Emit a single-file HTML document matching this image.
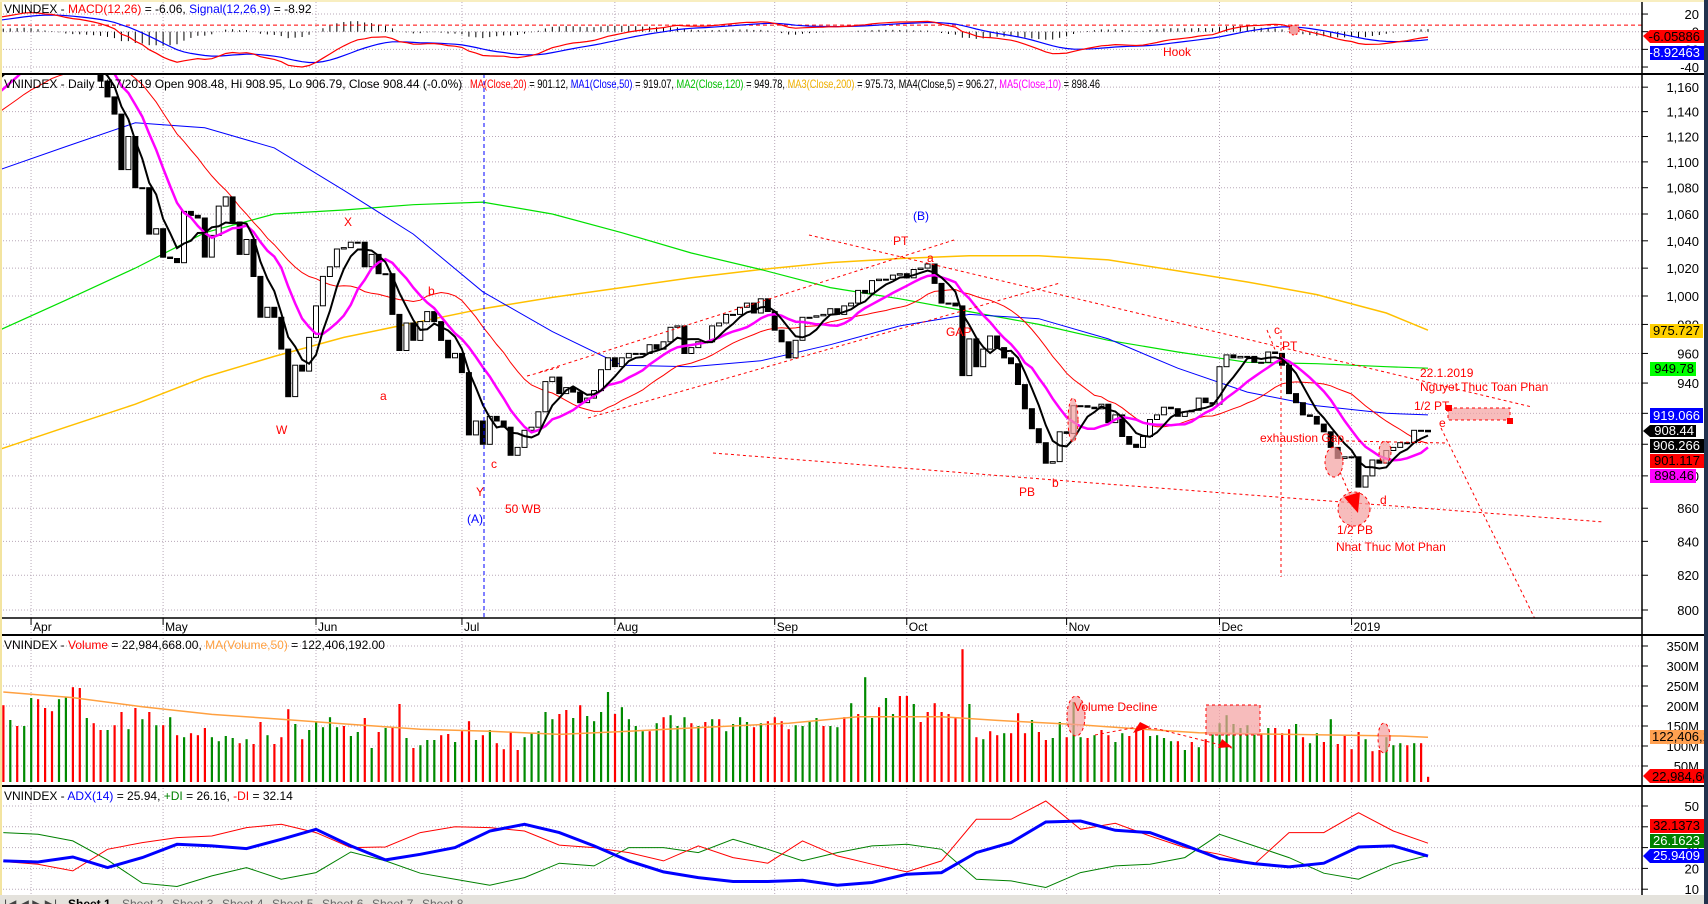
<!DOCTYPE html>
<html><head><meta charset="utf-8"><title>VNINDEX chart</title>
<style>
html,body{margin:0;padding:0;background:#fff;}
svg{display:block;font-family:"Liberation Sans",Arial,sans-serif;}
</style></head>
<body>
<svg id="chart" width="1708" height="904" viewBox="0 0 1708 904" xmlns="http://www.w3.org/2000/svg">
<defs>
<clipPath id="cM"><rect x="0" y="0" width="1642" height="74"/></clipPath>
<clipPath id="cP"><rect x="0" y="75" width="1642" height="543"/></clipPath>
<clipPath id="cV"><rect x="0" y="636" width="1642" height="149"/></clipPath>
<clipPath id="cA"><rect x="0" y="787" width="1642" height="108"/></clipPath>
</defs>
<rect x="0" y="0" width="1708" height="904" fill="#fff"/>
<g id="grid"></g>
<g id="macdG" clip-path="url(#cM)"></g>
<g id="priceG" clip-path="url(#cP)"></g>
<g id="volG" clip-path="url(#cV)"></g>
<g id="adxG" clip-path="url(#cA)"></g>

<g clip-path="url(#cP)" stroke="#ff0000" stroke-width="1" fill="none" stroke-dasharray="3,3">
<line x1="484" y1="74" x2="484" y2="618" stroke="#0000ff" stroke-dasharray="4,3"/>
<line x1="1281" y1="330" x2="1281" y2="577"/>
<line x1="809" y1="235" x2="1532" y2="407"/>
<line x1="540" y1="372" x2="954" y2="240"/>
<line x1="588" y1="418" x2="1060" y2="283"/>
<polyline points="713,453 1080,482 1604,522"/>
<line x1="1441" y1="428" x2="1535" y2="619"/>
<line x1="1267" y1="330" x2="1276" y2="352"/>
<line x1="1346" y1="441" x2="1448" y2="443"/>
<line x1="1340" y1="472" x2="1350" y2="495"/>
<line x1="527" y1="376" x2="560" y2="367"/>
<ellipse cx="1073" cy="420" rx="5" ry="22" fill="#f4a0a0" fill-opacity="0.7"/>
<ellipse cx="1334" cy="462" rx="9" ry="15" fill="#f4a0a0" fill-opacity="0.7"/>
<ellipse cx="1354" cy="509" rx="16" ry="17" fill="#f4a0a0" fill-opacity="0.7"/>
<ellipse cx="1385" cy="452" rx="6" ry="11" fill="#f4a0a0" fill-opacity="0.7"/>
<rect x="1448" y="408" width="62" height="12" fill="#f4a0a0" fill-opacity="0.7"/>
</g>
<g fill="#ff0000">
<rect x="1446" y="405" width="6" height="6"/>
<rect x="1507" y="418" width="6" height="6"/>
<polygon points="1344,497 1360,492 1358,513"/>
</g>
<g font-size="12" fill="#ff0000">
<text x="344" y="226">X</text>
<text x="276" y="434">W</text>
<text x="380" y="400">a</text>
<text x="428" y="295">b</text>
<text x="476" y="496">Y</text>
<text x="491" y="468">c</text>
<text x="505" y="513">50 WB</text>
<text x="893" y="245">PT</text>
<text x="927" y="262">a</text>
<text x="946" y="336">GAP</text>
<text x="1019" y="496">PB</text>
<text x="1052" y="487">b</text>
<text x="1274" y="334">c</text>
<text x="1282" y="350">PT</text>
<text x="1420" y="377">22.1.2019</text>
<text x="1420" y="391">Nguyet Thuc Toan Phan</text>
<text x="1414" y="410">1/2 PT</text>
<text x="1439" y="427">e</text>
<text x="1260" y="442">exhaustion Gap</text>
<text x="1380" y="504">d</text>
<text x="1337" y="534">1/2 PB</text>
<text x="1336" y="551">Nhat Thuc Mot Phan</text>
<text x="467" y="523" fill="#0000ff">(A)</text>
<text x="913" y="220" fill="#0000ff">(B)</text>
</g>
<circle cx="1294" cy="30" r="5" fill="#f4a0a0" stroke="#ff0000" stroke-dasharray="2,2"/>
<text x="1163" y="56" font-size="12" fill="#ff0000">Hook</text>
<g stroke="#ff0000" stroke-dasharray="3,3" fill="#f4a0a0" fill-opacity="0.7">
<ellipse cx="1076" cy="716" rx="9" ry="20"/>
<rect x="1206" y="705" width="54" height="30"/>
<ellipse cx="1384" cy="738" rx="6" ry="15"/>
<polyline points="1095,735 1137,727 1158,729 1213,743 1232,748" fill="none"/>
</g>
<polygon points="1133,733 1150,727 1140,722" fill="#ff0000"/>
<polygon points="1218,748 1232,747 1222,739" fill="#ff0000"/>
<text x="1074" y="711" font-size="12" fill="#ff0000">Volume Decline</text>

<text x="4" y="13" font-size="12"><tspan>VNINDEX - </tspan><tspan fill="#ff0000">MACD(12,26)</tspan><tspan> = -6.06, </tspan><tspan fill="#0000ff">Signal(12,26,9)</tspan><tspan> = -8.92</tspan></text>
<text x="4" y="88" font-size="12">VNINDEX - Daily 1/17/2019 Open 908.48, Hi 908.95, Lo 906.79, Close 908.44 (-0.0%)</text>
<text x="470" y="88" font-size="12" textLength="630" lengthAdjust="spacingAndGlyphs"><tspan fill="#ff0000">MA(Close,20)</tspan><tspan> = 901.12, </tspan><tspan fill="#0000ff">MA1(Close,50)</tspan><tspan> = 919.07, </tspan><tspan fill="#00c000">MA2(Close,120)</tspan><tspan> = 949.78, </tspan><tspan fill="#f0b000">MA3(Close,200)</tspan><tspan> = 975.73, </tspan><tspan>MA4(Close,5) = 906.27, </tspan><tspan fill="#ff00ff">MA5(Close,10)</tspan><tspan> = 898.46</tspan></text>
<text x="4" y="649" font-size="12"><tspan>VNINDEX - </tspan><tspan fill="#ff0000">Volume</tspan><tspan> = 22,984,668.00, </tspan><tspan fill="#ffa040">MA(Volume,50)</tspan><tspan> = 122,406,192.00</tspan></text>
<text x="4" y="800" font-size="12"><tspan>VNINDEX - </tspan><tspan fill="#0000ff">ADX(14)</tspan><tspan> = 25.94, </tspan><tspan fill="#008000">+DI</tspan><tspan> = 26.16, </tspan><tspan fill="#ff0000">-DI</tspan><tspan> = 32.14</tspan></text>

<g stroke="#000">
<line x1="0" y1="74" x2="1708" y2="74" stroke-width="2"/>
<line x1="0" y1="618" x2="1642" y2="618" stroke-width="1.5"/>
<line x1="0" y1="635" x2="1708" y2="635" stroke-width="2"/>
<line x1="0" y1="786" x2="1708" y2="786" stroke-width="2"/>
<line x1="1642" y1="0" x2="1642" y2="895" stroke-width="1.5"/>
</g>
<g id="axisG"></g>

<g font-size="13">
<polygon points="1643,36 1650,30 1705,30 1705,43 1650,43" fill="#ff0000"/><text x="1700" y="41" text-anchor="end" fill="#000">-6.05886</text>
<rect x="1650" y="46" width="55" height="14" fill="#0000ff"/><text x="1700" y="57" text-anchor="end" fill="#fff">-8.92463</text>
<rect x="1650" y="324" width="53" height="14" fill="#ffd000"/><text x="1700" y="335" text-anchor="end">975.727</text>
<rect x="1650" y="362" width="46" height="14" fill="#00ff00"/><text x="1694" y="373" text-anchor="end">949.78</text>
<rect x="1650" y="408" width="53" height="15" fill="#0000ff"/><text x="1700" y="420" text-anchor="end" fill="#fff">919.066</text>
<polygon points="1643,431 1650,425 1696,425 1696,437 1650,437" fill="#000"/><text x="1694" y="435" text-anchor="end" fill="#fff">908.44</text>
<rect x="1650" y="439" width="55" height="14" fill="#000"/><text x="1700" y="450" text-anchor="end" fill="#fff">906.266</text>
<rect x="1650" y="454" width="55" height="14" fill="#ff0000"/><text x="1700" y="465" text-anchor="end">901.117</text>
<rect x="1650" y="469" width="46" height="14" fill="#ff00ff"/><text x="1694" y="480" text-anchor="end">898.46</text>
<rect x="1650" y="730" width="58" height="14" fill="#ffa050"/><text x="1652" y="741">122,406,1</text>
<polygon points="1643,776 1650,769 1708,769 1708,783 1650,783" fill="#ff0000"/><text x="1652" y="781">22,984,66</text>
<rect x="1650" y="819" width="55" height="14" fill="#ff0000"/><text x="1700" y="830" text-anchor="end">32.1373</text>
<rect x="1650" y="834" width="55" height="14" fill="#008000"/><text x="1700" y="845" text-anchor="end" fill="#fff">26.1623</text>
<polygon points="1643,856 1650,849 1705,849 1705,863 1650,863" fill="#0000ff"/><text x="1700" y="860" text-anchor="end" fill="#fff">25.9409</text>
</g>

<g>
<rect x="0" y="895" width="1708" height="9" fill="#e4e2dc"/>
<text x="4" y="908" font-size="12" fill="#444">|◀ ◀ ▶ ▶|</text>
<text x="68" y="908" font-size="12" font-weight="bold">Sheet 1</text>
<text x="122" y="908" font-size="12" fill="#666">Sheet 2</text>
<text x="172" y="908" font-size="12" fill="#666">Sheet 3</text>
<text x="222" y="908" font-size="12" fill="#666">Sheet 4</text>
<text x="272" y="908" font-size="12" fill="#666">Sheet 5</text>
<text x="322" y="908" font-size="12" fill="#666">Sheet 6</text>
<text x="372" y="908" font-size="12" fill="#666">Sheet 7</text>
<text x="422" y="908" font-size="12" fill="#666">Sheet 8</text>
</g>
<rect x="0" y="0" width="2" height="895" fill="#f3e4a0"/>
<rect x="0" y="0" width="1708" height="2" fill="#f8eec0"/>
<rect x="1704" y="0" width="4" height="904" fill="#22324e"/>
</svg>

<script>
const preCloses = [1100,1105,1095,1110,1115,1120,1125,1130,1120,1128,1135,1140,1130,1138,1145,1150,1148,1155,1160,1165,1170,1175,
1180,1188,1195,1204,1198,1190,1185,1192,1180,1175,1178,1182,1176,1172,1165];
const closes = [1152,1138,1094,1120,1080,1080,1045,1049,1028,1027,1024,1062,1059,1057,1028,1044,1066,1073,1054,1030,
1041,1014,985,992,985,963,931,952,948,971,993,1014,1021,1034,1035,1039,1039,1021,1030,1016,
1016,987,962,981,969,982,989,982,969,957,960,947,906,915,900,918,915,911,893,898,
909,911,921,941,944,
933,937,934,927,930,935,949,957,951,957,960,960,960,966,963,968,978,979,960,964,
968,968,979,981,987,987,992,995,988,998,989,976,968,957,969,985,985,986,987,991,
987,993,995,1004,1002,1011,1012,1012,1015,1016,1013,1019,1020,1023,1009,995,995,993,945,970,
951,963,972,964,957,953,939,923,910,901,888,889,908,907,925,925,924,923,
926,914,919,905,900,898,905,916,919,924,923,918,921,922,930,927,926,951,959,957,
958,958,954,954,961,960,952,933,927,919,918,913,908,898,891,892,892,873,880,890,
888,896,898,901,901,909,909,908];
const volumes = [202,165,150,150,220,217,195,187,217,222,247,245,170,157,140,140,152,185,142,195,
167,185,152,152,172,127,122,132,127,145,122,112,125,120,107,117,105,160,127,105,
122,192,155,117,140,162,147,172,147,150,125,135,170,95,135,145,145,205,120,95,
102,115,115,127,130,110,137,162,115,127,140,107,92,135,90,122,132,137,185,167,
180,190,170,202,175,162,185,235,180,197,167,150,137,137,157,172,177,150,172,157,
150,160,167,167,137,
155,172,160,147,157,162,172,162,142,152,150,160,170,150,150,147,172,207,180,272,
170,197,220,180,225,225,205,160,185,207,185,180,172,342,205,122,117,137,127,132,
132,182,132,165,135,115,120,160,122,210,122,120,127,140,127,110,132,125,140,140,
125,127,120,112,112,90,110,97,117,130,157,177,155,145,152,130,130,145,145,132,
142,155,122,107,132,110,167,105,125,92,135,117,87,90,122,102,107,102,107,107,23];
const volColors = "rgrggrrrgg"+"rrgrrgrrgr"+"grgrgrgrrr"+"ggggrgrrgr"+"rrgrgggggr"+"ggrgrgrrgr"+"gggrrgrrgr"+"grrrrggggg"+"rrgrggggrg"+"gggrgrgggr"+"grgrg"
 +"gggrgrrrrg"+"gggrggrgrg"+"grggrrgrrr"+"rrrrgrgrrg"+"rrrgrrggrg"+"grgrrggrrr"+"ggggrgrgrg"+"ggggggrgrr"+"rgrggrgrrr"+"rgrrgggrgr"+"r";
const maIdx  = [-1,9,19,29,39,49,59,69,79,89,99,109,119,129,139,149,159,169,179,189,199,205];
const ma50   = [1093,1112,1131,1127,1111,1078,1045,1003,975,952,951,955,966,979,987,984,970,950,934,925,920,919];
const ma120  = [975,997,1020,1046,1060,1063,1067,1069,1060,1046,1031,1019,1006,998,989,980,969,961,954,953,951,950];
const ma200  = [896,911,926,944,958,971,981,991,999,1006,1013,1019,1024,1027,1029,1029,1026,1018,1010,1001,988,976];
const volMaIdx = [0,10,20,30,40,50,60,70,80,90,100,113,123,135,143,154,164,172,185,201,205];
const volMa    = [235,221,198,179,167,154,142,137,129,137,146,157,173,173,164,154,142,133,129,125,122];
const adxIdx = [0,5,10,15,20,25,30,35,40,45,50,55,60,65,70,75,80,85,90,95,100,105,110,115,120,125,130,135,140,145,150,155,160,165,170,175,180,185,190,195,200,205];
const adx  = [23.6,23.1,25.5,20.4,25.2,31.6,30.8,29.5,34,38.8,30.8,24.1,26.8,30,38,41.2,37.2,30.8,23.6,18.3,15.6,13.7,13.7,14.3,11.9,13.2,17.2,18,27.6,32.4,42.3,42.8,38.3,37.2,31.1,24.7,22.3,20.7,22.5,30.3,30.8,25.9];
const pdi  = [37.2,36.4,33.2,24.1,12.9,11.3,16.4,20.4,14.8,18,27.9,23.6,17.7,14.8,11.9,15.6,22.5,21.2,30,30,27.6,34,29.2,23.6,27.6,30.8,31.6,29.2,14.8,14,10.8,18,21.2,22,25.2,36.4,30.8,25.2,17.7,14.8,22,26.2];
const mdi  = [23.3,22,18.8,29.2,32.4,34.8,35.6,39.6,41.2,37.2,30,30.3,37.2,40,39.6,38,31.2,30,27.6,23.6,30.8,25.2,22.5,33.2,26,22,18.3,23.6,43.6,43.6,52.4,38.8,41.7,35.6,30,26.8,22,37.2,37.2,46.8,38,32.1];
const priceTicks = [800,820,840,860,880,900,920,940,960,980,1000,1020,1040,1060,1080,1100,1120,1140,1160];
const macdTicks = [20,0,-20,-40];
const macdTickLabels = ["20","0","-20","-40"];
const volTicks = [50,100,150,200,250,300,350];
const adxTicks = [10,20,30,40,50];
const monthIdx = [4,23,45,66,88,111,130,153,175,194];
const monthLabels = ["Apr","May","Jun","Jul","Aug","Sep","Oct","Nov","Dec","2019"];
const macdRefLevel = [7.5];

const NS = "http://www.w3.org/2000/svg";
const PRE = 22;
const X0 = 3.25, DX = 6.95, RIGHT = 1642;
function xi(i){ return X0 + i*DX; }
function yP(v){ return 296 - 3240*Math.log10(v/1000); }
function yM(v){ return 31.7 - 0.883*v; }
function yV(m){ return 786 - 0.4*m; }
function yA(v){ return 806 + (50 - v)*2.08; }
function mk(tag, attrs, parent){
  const e = document.createElementNS(NS, tag);
  for (const k in attrs) e.setAttribute(k, attrs[k]);
  parent.appendChild(e);
  return e;
}
const gGrid = document.getElementById('grid');
const gAxis = document.getElementById('axisG');
const gM = document.getElementById('macdG');
const gP = document.getElementById('priceG');
const gV = document.getElementById('volG');
const gA = document.getElementById('adxG');

function hGrid(y, name){
  const l = mk('line', {x1:0, x2:RIGHT, y1:y, y2:y, stroke:'#b8a8b8', 'stroke-dasharray':'1,2'}, gGrid);
  
  
}
function tickLabel(y, txt, name){
  const t = mk('line', {x1:RIGHT, x2:RIGHT+6, y1:y, y2:y, stroke:'#000'}, gAxis);
  
  
  const s = mk('text', {x:1699, y:y+5, 'text-anchor':'end', 'font-size':13}, gAxis);
  s.textContent = txt;
  
  
}
function fmt(v){ return v >= 1000 ? Math.floor(v/1000) + ',' + String(v%1000).padStart(3,'0') : String(v); }

priceTicks.forEach(v => { hGrid(yP(v), 'price-gridline'); tickLabel(yP(v), fmt(v), 'price-tick-label'); });
macdTicks.forEach((v,k) => { hGrid(yM(v), 'macd-gridline'); tickLabel(yM(v), macdTickLabels[k], 'macd-tick-label'); });
volTicks.forEach(v => { hGrid(yV(v), 'volume-gridline'); tickLabel(yV(v), v + 'M', 'volume-tick-label'); });
adxTicks.forEach(v => { hGrid(yA(v), 'adx-gridline'); tickLabel(yA(v), String(v), 'adx-tick-label'); });
monthIdx.forEach((i,k) => {
  const x = xi(i);
  const l = mk('line', {x1:x, x2:x, y1:2, y2:895, stroke:'#b8a8b8', 'stroke-dasharray':'1,2'}, gGrid);
  
  
  const t = mk('line', {x1:x, x2:x, y1:618, y2:625, stroke:'#000'}, gAxis);
  
  
  const s = mk('text', {x:x+2, y:631, 'font-size':12, 'font-stretch':'condensed'}, gAxis);
  s.textContent = monthLabels[k];
  
  
});

const all = preCloses.concat(closes);
function sma(n){ return all.map((v,j) => { if (j < n-1) return null; let s=0; for (let k=j-n+1;k<=j;k++) s+=all[k]; return s/n; }); }
function linePts(vals, yf){ const pts=[]; vals.forEach((v,j) => { if (v===null) return; const i=j-PRE; if (i<-2) return; pts.push(xi(i).toFixed(1)+','+yf(v).toFixed(1)); }); return pts.join(' '); }
function samplePts(idx, vals, yf){ return idx.map((i,k) => xi(i).toFixed(1)+','+yf(vals[k]).toFixed(1)).join(' '); }

const l200 = mk('polyline', {points:samplePts(maIdx, ma200, yP), fill:'none', stroke:'#ffc000', 'stroke-width':1.5}, gP);


const l120 = mk('polyline', {points:samplePts(maIdx, ma120, yP), fill:'none', stroke:'#00e000', 'stroke-width':1.2}, gP);


const l50 = mk('polyline', {points:samplePts(maIdx, ma50, yP), fill:'none', stroke:'#0000ff', 'stroke-width':1}, gP);


const l20 = mk('polyline', {points:linePts(sma(20), yP), fill:'none', stroke:'#ff0000', 'stroke-width':1}, gP);



for (let j=1; j<all.length; j++){
  const i = j - PRE; if (i < 0) continue;
  const o = all[j-1], c = all[j];
  const yt = yP(Math.max(o,c)), yb = yP(Math.min(o,c));
  const up = c >= o;
  const r = mk('rect', {x:(xi(i)-2.5).toFixed(1), y:yt.toFixed(1), width:5, height:Math.max(1,yb-yt).toFixed(1), fill: up ? '#fff' : '#000', stroke:'#000', 'stroke-width':1}, gP);
  
  
}
const l10 = mk('polyline', {points:linePts(sma(10), yP), fill:'none', stroke:'#ff00ff', 'stroke-width':2.5}, gP);


const l5 = mk('polyline', {points:linePts(sma(5), yP), fill:'none', stroke:'#000', 'stroke-width':2}, gP);



function ema(arr, n){ const a=2/(n+1); const out=[]; arr.forEach((v,k) => out.push(k===0 ? v : a*v + (1-a)*out[k-1])); return out; }
const e12 = ema(all,12), e26 = ema(all,26);
const macd = all.map((v,k) => e12[k]-e26[k]);
const sig = ema(macd, 9);
macd.forEach((m,j) => {
  const i=j-PRE; if (i<0) return;
  const h = m - sig[j];
  const b = mk('line', {x1:xi(i), x2:xi(i), y1:yM(0), y2:yM(h), stroke:'#000', 'stroke-width':1}, gM);
  
  
});
const ref = mk('line', {x1:0, x2:RIGHT, y1:yM(macdRefLevel[0]), y2:yM(macdRefLevel[0]), stroke:'#ff0000', 'stroke-dasharray':'4,3'}, gM);


const ms = mk('polyline', {points:linePts(sig, yM), fill:'none', stroke:'#0000ff', 'stroke-width':1.2}, gM);


const ml = mk('polyline', {points:linePts(macd, yM), fill:'none', stroke:'#ff0000', 'stroke-width':1.2}, gM);



volumes.forEach((v,i) => {
  const y = yV(v);
  const r = mk('rect', {x:(xi(i)-1).toFixed(1), y:y.toFixed(1), width:2.2, height:Math.max(1, 782-y).toFixed(1), fill: volColors[i]==='g' ? '#008a00' : '#ff0000'}, gV);
  
  
});
const vm = mk('polyline', {points:samplePts(volMaIdx, volMa, yV), fill:'none', stroke:'#ffa040', 'stroke-width':1.5}, gV);



const lp = mk('polyline', {points:samplePts(adxIdx, pdi, yA), fill:'none', stroke:'#008000', 'stroke-width':1}, gA);


const lm = mk('polyline', {points:samplePts(adxIdx, mdi, yA), fill:'none', stroke:'#ff0000', 'stroke-width':1}, gA);


const la = mk('polyline', {points:samplePts(adxIdx, adx, yA), fill:'none', stroke:'#0000ff', 'stroke-width':3}, gA);


</script>
</body></html>
